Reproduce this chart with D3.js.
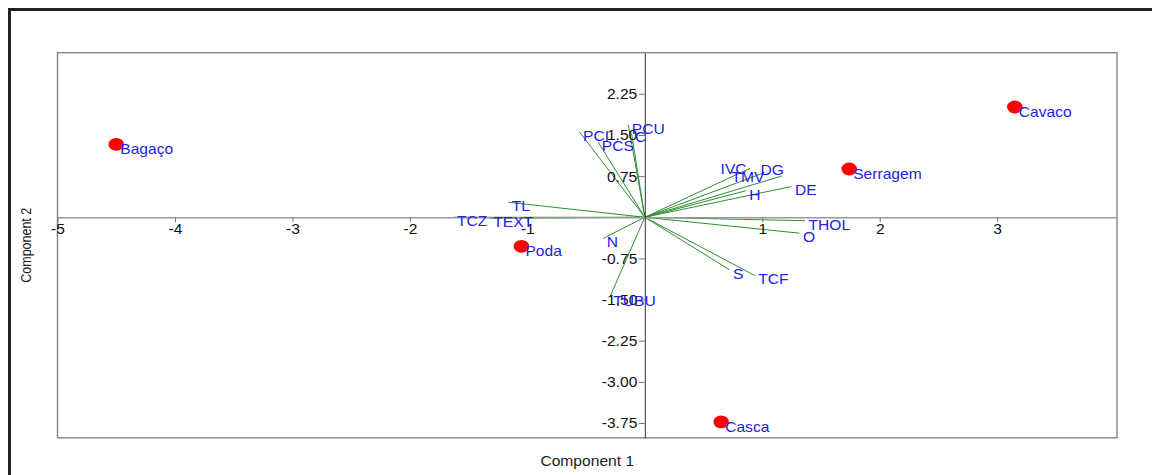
<!DOCTYPE html>
<html>
<head>
<meta charset="utf-8">
<script src="https://cdn.jsdelivr.net/npm/d3@7"></script>
<style>
  html, body { margin: 0; padding: 0; background: #fff; }
  svg { display: block; font-family: "Liberation Sans", Arial, sans-serif; }
</style>
</head>
<body>
<svg id="chart" width="1152" height="475"></svg>
<script>
// Biomass residues (scores) on the first two principal components
const residues = ["Bagaço", "Cavaco", "Serragem", "Poda", "Casca"];
const residuePC1 = [-4.50, 3.15, 1.74, -1.05, 0.65];
const residuePC2 = [1.33, 2.01, 0.88, -0.53, -3.73];

// Variable loadings (biplot vectors)
const variables = ["PCI", "PCS", "PCU", "C", "TL", "TCZ", "TEXT", "N", "TUBU",
                   "IVC", "TMV", "DG", "H", "DE", "THOL", "O", "S", "TCF"];
const loadPC1 = [-0.556, -0.396, -0.140, -0.113, -1.162, -1.629, -1.320, -0.353, -0.298,
                 0.896, 0.998, 1.168, 0.860, 1.249, 1.364, 1.317, 0.721, 0.936];
const loadPC2 = [1.555, 1.367, 1.682, 1.533, 0.273, 0.000, -0.020, -0.383, -1.456,
                 0.893, 0.798, 0.753, 0.483, 0.561, -0.062, -0.290, -0.957, -1.061];

const xTicks = [-5, -4, -3, -2, -1, 1, 2, 3];
const yTicks = [2.25, 1.50, 0.75, -0.75, -1.50, -2.25, -3.00, -3.75];
const xTitle = "Component 1";
const yTitle = "Component 2";

const svg = d3.select("#chart");
const FONT = 14;
const STRETCH = 1.115;      // horizontal text stretch
const BLUE = "#2222e0";
const GREEN = "#2f8f2f";
const FAMILY = "Liberation Sans, Arial, sans-serif";

// plain hyphen for negatives
const fmtInt = d => String(d);
const fmt2 = d => d.toFixed(2);

// Outer frame (top and left edges)
svg.append("path")
  .attr("d", "M9.5,475 L9.5,9.5 L1152,9.5")
  .attr("fill", "none").attr("stroke", "#222").attr("stroke-width", 3);

const x = d3.scaleLinear().domain([-5, 4.02]).range([57.5, 1117]);
const y = d3.scaleLinear().domain([-4.02, 3.0]).range([437.8, 52.7]);

// Plot box
svg.append("rect")
  .attr("x", x.range()[0]).attr("y", y.range()[1])
  .attr("width", x.range()[1] - x.range()[0])
  .attr("height", y.range()[0] - y.range()[1])
  .attr("fill", "none").attr("stroke", "#8c8c8c").attr("stroke-width", 1.5);

// Loading vectors
const loadings = variables.map((name, i) => ({ name, pc1: loadPC1[i], pc2: loadPC2[i] }));
svg.append("g").selectAll("line").data(loadings).join("line")
  .attr("x1", x(0)).attr("y1", y(0))
  .attr("x2", d => x(d.pc1)).attr("y2", d => y(d.pc2))
  .attr("stroke", GREEN).attr("stroke-width", 1);

// Axes through the origin
const xAxis = svg.append("g")
  .attr("transform", `translate(0,${y(0)})`)
  .call(d3.axisBottom(x).tickValues(xTicks).tickFormat(fmtInt).tickSize(5).tickSizeOuter(0));
xAxis.select(".domain").attr("stroke", "#999").attr("stroke-width", 1.5);
xAxis.selectAll(".tick line").attr("stroke", "#777");
xAxis.selectAll(".tick text")
  .attr("y", 0).attr("dy", 0)
  .attr("transform", `translate(0,16.5) scale(${STRETCH},1)`)
  .attr("fill", "#111").attr("font-size", FONT).attr("font-family", FAMILY);

const yAxis = svg.append("g")
  .attr("transform", `translate(${x(0)},0)`)
  .call(d3.axisLeft(y).tickValues(yTicks).tickFormat(fmt2).tickSize(6).tickSizeOuter(0));
yAxis.select(".domain").attr("stroke", "#333").attr("stroke-width", 1);
yAxis.selectAll(".tick line").attr("stroke", "#777");
yAxis.selectAll(".tick text")
  .attr("x", 0).attr("dy", 0)
  .attr("transform", `translate(-7.5,5) scale(${STRETCH},1)`)
  .attr("fill", "#111").attr("font-size", FONT).attr("font-family", FAMILY);

// Loading labels, placed just past each vector tip
const labelShift = { IVC: [-33, -3], TMV: [-34, 0], DG: [-25, -10] };
svg.append("g").selectAll("text").data(loadings).join("text")
  .attr("transform", d => {
    const s = labelShift[d.name] || [0, 0];
    return `translate(${x(d.pc1) + 3.5 + s[0]},${y(d.pc2) + 9 + s[1]}) scale(${STRETCH},1)`;
  })
  .attr("font-size", FONT).attr("fill", BLUE)
  .text(d => d.name);

// Residue scores
const scores = residues.map((name, i) => ({ name, pc1: residuePC1[i], pc2: residuePC2[i] }));
svg.append("g").selectAll("ellipse").data(scores).join("ellipse")
  .attr("cx", d => x(d.pc1)).attr("cy", d => y(d.pc2))
  .attr("rx", 7.8).attr("ry", 6.4)
  .attr("fill", "#ff0000");
svg.append("g").selectAll("text").data(scores).join("text")
  .attr("transform", d => `translate(${x(d.pc1) + 4},${y(d.pc2) + 10}) scale(${STRETCH},1)`)
  .attr("font-size", FONT).attr("fill", BLUE)
  .text(d => d.name);

// Axis titles
svg.append("text")
  .attr("transform", `translate(${(x.range()[0] + x.range()[1]) / 2},466) scale(${STRETCH},1)`)
  .attr("text-anchor", "middle").attr("font-size", FONT).attr("fill", "#222")
  .text(xTitle);
svg.append("text")
  .attr("transform", `translate(31,${(y.range()[0] + y.range()[1]) / 2}) scale(${STRETCH},1) rotate(-90)`)
  .attr("text-anchor", "middle").attr("font-size", 12.5).attr("fill", "#222")
  .text(yTitle);
</script>
</body>
</html>
